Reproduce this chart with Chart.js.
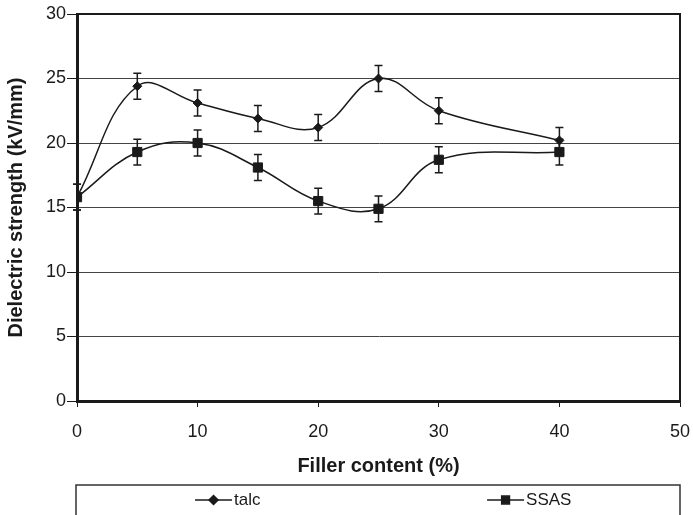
<!DOCTYPE html>
<html>
<head>
<meta charset="utf-8">
<script src="https://cdn.jsdelivr.net/npm/chart.js@4/dist/chart.umd.min.js"></script>
<style>
    html, body { margin: 0; padding: 0; background: #fff; }
    #wrap { width: 693px; height: 515px; }
</style>
</head>
<body>
<div id="wrap"><canvas id="chart" width="693" height="515"></canvas></div>
<script>
// Data
const fillerContent = [0, 5, 10, 15, 20, 25, 30, 40];
const talcValues = [15.8, 24.4, 23.1, 21.9, 21.2, 25.0, 22.5, 20.2];
const talcErrors = [1, 1, 1, 1, 1, 1, 1, 1];
const ssasValues = [15.8, 19.3, 20.0, 18.1, 15.5, 14.9, 18.7, 19.3];
const ssasErrors = [1, 1, 1, 1, 1, 1, 1, 1];
const seriesNames = ["talc", "SSAS"];
const xTicks = [0, 10, 20, 30, 40, 50];
const yTicks = [0, 5, 10, 15, 20, 25, 30];

const FONT = "'Liberation Sans', Arial, sans-serif";
const INK = "#1a1a1a";

function toPoints(xs, ys) {
    return xs.map((x, i) => ({ x: x, y: ys[i] }));
}

// Draw vertical error bars with caps for each dataset
const errorBars = {
    id: "errorBars",
    afterDatasetsDraw(chart) {
        const ctx = chart.ctx;
        const yScale = chart.scales.y;
        ctx.save();
        ctx.strokeStyle = INK;
        ctx.lineWidth = 1.5;
        chart.data.datasets.forEach((ds, di) => {
            const meta = chart.getDatasetMeta(di);
            meta.data.forEach((pt, i) => {
                const err = ds.errors[i];
                const v = ds.data[i].y;
                const top = yScale.getPixelForValue(v + err);
                const bot = yScale.getPixelForValue(v - err);
                ctx.beginPath();
                ctx.moveTo(pt.x, top);
                ctx.lineTo(pt.x, bot);
                ctx.moveTo(pt.x - 4, top);
                ctx.lineTo(pt.x + 4, top);
                ctx.moveTo(pt.x - 4, bot);
                ctx.lineTo(pt.x + 4, bot);
                ctx.stroke();
            });
        });
        ctx.restore();
    }
};

// Frame around plot area plus an Excel-style boxed legend under the axis title
const frameAndLegend = {
    id: "frameAndLegend",
    afterDraw(chart) {
        const ctx = chart.ctx;
        const a = chart.chartArea;
        ctx.save();
        ctx.strokeStyle = INK;
        ctx.lineWidth = 2;
        ctx.beginPath();
        ctx.moveTo(a.left, a.top);
        ctx.lineTo(a.right, a.top);
        ctx.lineTo(a.right, a.bottom);
        ctx.stroke();

        // legend box
        const boxTop = 485;
        ctx.lineWidth = 1.5;
        ctx.strokeStyle = "#333";
        ctx.strokeRect(a.left - 1, boxTop, a.right - a.left + 1, 60);

        ctx.font = "17px " + FONT;
        ctx.textBaseline = "middle";
        ctx.textAlign = "left";
        const half = (a.right - a.left) / 2;
        const cy = boxTop + 15;
        chart.data.datasets.forEach((ds, i) => {
            const lineLen = 37;
            const tw = ctx.measureText(ds.label).width;
            const w = lineLen + 2 + tw;
            const x0 = a.left + half * i + half / 2 - w / 2;
            ctx.strokeStyle = INK;
            ctx.lineWidth = 1.5;
            ctx.beginPath();
            ctx.moveTo(x0, cy);
            ctx.lineTo(x0 + lineLen, cy);
            ctx.stroke();
            ctx.fillStyle = INK;
            Chart.helpers.drawPoint(ctx, {
                pointStyle: ds.pointStyle,
                radius: ds.pointStyle === "rect" ? 5.5 : 4.5,
                borderWidth: 1,
                rotation: 0
            }, x0 + lineLen / 2, cy);
            ctx.fillStyle = INK;
            ctx.fillText(ds.label, x0 + lineLen + 2, cy);
        });
        ctx.restore();
    }
};

const ctx = document.getElementById("chart").getContext("2d");

new Chart(ctx, {
    type: "scatter",
    data: {
        datasets: [
            {
                label: seriesNames[0],
                data: toPoints(fillerContent, talcValues),
                errors: talcErrors,
                showLine: true,
                tension: 0.4,
                borderColor: INK,
                borderWidth: 1.5,
                pointStyle: "rectRot",
                pointRadius: 4.5,
                pointBorderWidth: 1,
                pointBackgroundColor: INK,
                pointBorderColor: INK
            },
            {
                label: seriesNames[1],
                data: toPoints(fillerContent, ssasValues),
                errors: ssasErrors,
                showLine: true,
                tension: 0.4,
                borderColor: INK,
                borderWidth: 1.5,
                pointStyle: "rect",
                pointRadius: 6.5,
                pointBorderWidth: 1,
                pointBackgroundColor: INK,
                pointBorderColor: INK
            }
        ]
    },
    options: {
        responsive: false,
        animation: false,
        layout: { padding: { left: 0, top: 14, right: 13, bottom: 34 } },
        plugins: {
            legend: { display: false },
            tooltip: { enabled: false }
        },
        scales: {
            x: {
                type: "linear",
                min: 0,
                max: 50,
                afterBuildTicks: s => { s.ticks = xTicks.map(v => ({ value: v })); },
                afterFit: s => { s.height = 80; s.paddingLeft = 0; s.paddingRight = 0; },
                ticks: { color: INK, font: { family: FONT, size: 18 }, padding: 14 },
                grid: { drawOnChartArea: false, tickColor: INK, tickLength: 6, tickWidth: 1 },
                border: { color: INK, width: 3 },
                title: {
                    display: true,
                    text: "Filler content (%)",
                    color: INK,
                    font: { family: FONT, size: 20, weight: "bold" },
                    padding: { top: 0, bottom: 3 }
                }
            },
            y: {
                min: 0,
                max: 30,
                afterBuildTicks: s => { s.ticks = yTicks.map(v => ({ value: v })); },
                afterFit: s => { s.width = 77; s.paddingTop = 0; s.paddingBottom = 0; },
                ticks: { color: INK, font: { family: FONT, size: 18 }, padding: 1 },
                grid: { color: "#444", lineWidth: 1, tickColor: INK, tickLength: 10 },
                border: { color: INK, width: 3 },
                title: {
                    display: true,
                    text: "Dielectric strength (kV/mm)",
                    color: INK,
                    font: { family: FONT, size: 20, weight: "bold" },
                    padding: { top: 4, bottom: 0 }
                }
            }
        }
    },
    plugins: [errorBars, frameAndLegend]
});
</script>
</body>
</html>
